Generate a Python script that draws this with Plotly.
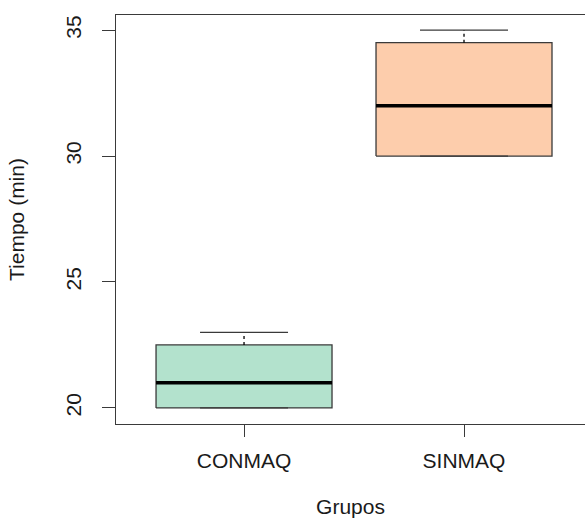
import plotly.graph_objects as go

groups = ["CONMAQ", "SINMAQ"]
positions = [1, 2]
lower_whisker = [20, 30]
q1 = [20, 30]
median = [21, 32]
q3 = [22.5, 34.5]
upper_whisker = [23, 35]
fills = ["#B3E2CD", "#FDCDAC"]
y_ticks = [20, 25, 30, 35]

BOX_W = 0.8
CAP_W = 0.4
EDGE = "#3a3a3a"
FONT = "Liberation Sans, Arial, sans-serif"
FS = 21

fig = go.Figure()
for i, g in enumerate(groups):
    x = positions[i]
    xl, xr = x - BOX_W / 2, x + BOX_W / 2
    # box
    fig.add_trace(go.Scatter(
        x=[xl, xr, xr, xl, xl], y=[q1[i], q1[i], q3[i], q3[i], q1[i]],
        mode="lines", fill="toself", fillcolor=fills[i],
        line=dict(color=EDGE, width=1.3), hoverinfo="skip", showlegend=False))
    # median
    fig.add_trace(go.Scatter(
        x=[xl, xr], y=[median[i], median[i]], mode="lines",
        line=dict(color="black", width=3.5), showlegend=False, hoverinfo="skip"))
    # whiskers (dashed)
    fig.add_trace(go.Scatter(
        x=[x, x, None, x, x],
        y=[q3[i], upper_whisker[i], None, q1[i], lower_whisker[i]],
        mode="lines", line=dict(color="black", width=1.3, dash="3px,3px"),
        showlegend=False, hoverinfo="skip"))
    # caps
    fig.add_trace(go.Scatter(
        x=[x - CAP_W / 2, x + CAP_W / 2, None, x - CAP_W / 2, x + CAP_W / 2],
        y=[upper_whisker[i], upper_whisker[i], None, lower_whisker[i], lower_whisker[i]],
        mode="lines", line=dict(color=EDGE, width=1.3),
        showlegend=False, hoverinfo="skip"))

fig.update_layout(
    width=585, height=518,
    margin=dict(l=116, r=0, t=15, b=94),
    paper_bgcolor="white", plot_bgcolor="white",
    font=dict(family=FONT, size=FS, color="#1a1a1a"),
    xaxis=dict(
        range=[0.418, 2.55], tickmode="array", tickvals=positions, ticktext=groups,
        showgrid=False, zeroline=False, showline=True, linecolor=EDGE, linewidth=1.3,
        mirror=True, ticks="outside", ticklen=12, tickcolor=EDGE, tickwidth=1.3,
        ticklabelstandoff=6,
        tickfont=dict(size=FS), title=dict(text="Grupos", font=dict(size=FS), standoff=30),
    ),
    yaxis=dict(
        range=[19.36, 35.6], tickmode="array", tickvals=y_ticks,
        ticktext=[str(v) for v in y_ticks], tickangle=-90,
        showgrid=False, zeroline=False, showline=True, linecolor=EDGE, linewidth=1.3,
        ticks="outside", ticklen=13, tickcolor=EDGE, tickwidth=1.3,
        ticklabelstandoff=12,
        tickfont=dict(size=FS), title=dict(text="Tiempo (min)", font=dict(size=FS), standoff=32),
    ),
)

fig.write_html("out.html")
